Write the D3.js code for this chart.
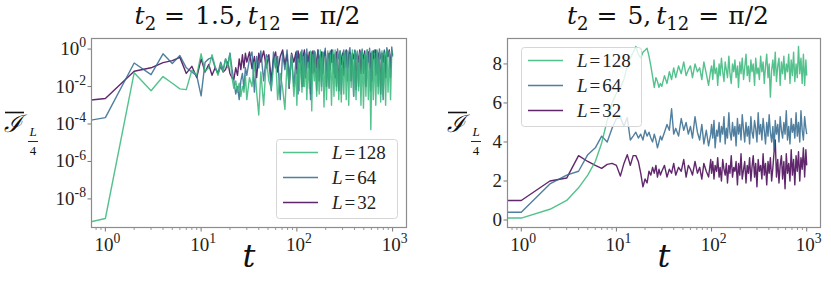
<!DOCTYPE html>
<html lang="en">
<head>
<meta charset="UTF-8">
<title>I_L/4 vs t</title>
<script src="https://d3js.org/d3.v7.min.js"></script>
<style>
  body { margin: 0; background: #fff; }
  svg { display: block; }
</style>
</head>
<body>
<script>
// time steps (t = 0 sits at the left edge of the log axis)
const tSteps = [0,1,2,3,4,5,6,7,8,9,10,11,12,13,14,15,16,17,18,19,20,21,22,23,24,25,26,27,28,29,30,
  32,34,36,38,40,42,45,48,51,54,57,60,63,67,71,75,79,83,88,93,98,
  100,103,106,109,113,116,120,123,127,131,135,139,143,147,152,156,161,166,171,176,
  181,187,192,198,204,210,217,223,230,237,244,251,259,266,274,283,291,300,309,318,
  328,338,348,358,369,380,392,403,415,428,441,454,467,481,496,511,526,542,558,575,
  592,610,628,647,667,687,707,728,750,773,796,820,845,870,896,923,951,980,1000];

const sizes = ["128", "64", "32"];
const colors = { "128": "#35b779", "64": "#31688e", "32": "#440154" };

// left panel: t2 = 1.5
const leftL32 = [1.9e-3,2.3e-3,6.5e-2,1e-1,1.9e-1,2.4e-1,3.6e-1,5e-2,1.2e-1,3e-2,3e-1,6e-2,1.5e-1,4e-2,1e-1,5e-2,1.2e-1,6e-2,8e-2,2e-1,5e-2,3e-2,2.5e-2,1e-1,4e-2,3e-1,8e-2,5e-1,1e-1,6e-1,2e-1,
  7e-1,9e-2,4e-1,3e-2,6e-1,2e-1,8e-1,1e-1,5e-1,2e-2,3e-1,7e-1,6e-2,4e-1,9e-1,1.5e-1,5e-1,8e-3,6e-1,2e-1,7e-1,
  5e-2,8e-1,2e-1,6e-1,1e-2,4e-1,9e-1,3e-2,5e-1,2e-1,
  7e-1,4e-3,3e-1,8e-1,6e-2,6e-1,1e-1,9e-1,2e-2,4e-1,
  7e-1,5e-2,5e-1,8e-1,1e-2,3e-1,6e-1,8e-2,9e-1,2e-1,
  5e-1,3e-2,7e-1,4e-1,6e-3,8e-1,1.5e-1,6e-1,4e-2,5e-1,
  9e-1,1e-1,4e-1,7e-1,2e-2,6e-1,3e-1,8e-1,7e-3,5e-1,
  2e-1,9e-1,5e-2,6e-1,3e-1,8e-1,1e-2,4e-1,7e-1,1e-1,
  6e-1,2e-2,8e-1,3e-1,9e-1,5e-2,5e-1,7e-1,4e-3,6e-1,
  2e-1,8e-1,3e-2,7e-1,4e-1,9e-1,1e-1,8e-1,5e-1];
const leftL64 = [1.6e-4,2.2e-4,1.8e-1,4.3e-2,5.6e-1,1.7e-1,4.5e-1,1e-1,6e-2,3.8e-2,3.2e-3,2e-1,3e-1,3.5e-1,1e-1,5e-2,2e-1,8e-2,3e-1,1.5e-1,6e-1,9e-2,2e-2,4e-3,1e-2,2e-3,2e-2,5e-2,8e-3,1e-1,4e-2,
  3e-1,7e-1,5e-3,4e-1,1e-1,8e-1,2e-2,5e-1,3e-1,6e-3,7e-1,1e-1,4e-1,2e-3,6e-1,8e-2,9e-1,3e-2,5e-1,1e-2,3e-1,
  8e-1,4e-3,5e-1,2e-1,9e-1,1e-2,6e-1,3e-2,1e0,1e-1,
  4e-1,2e-3,7e-1,5e-2,8e-1,3e-1,6e-3,9e-1,2e-1,5e-1,
  1e-2,7e-1,4e-1,1.1e0,3e-2,6e-1,8e-3,8e-1,2e-1,9e-1,
  5e-2,6e-1,1e-2,1e0,3e-1,7e-1,4e-3,5e-1,9e-1,1e-1,
  8e-1,2e-2,6e-1,1.2e0,7e-2,5e-1,3e-3,9e-1,3e-1,7e-1,
  1e-2,8e-1,4e-1,1e0,5e-2,6e-1,2e-2,9e-1,2e-1,1.1e0,
  6e-3,7e-1,5e-1,9e-1,4e-2,8e-1,1e-2,1e0,3e-1,6e-1,
  2e-3,9e-1,1e-1,1.2e0,5e-1,8e-1,3e-2,1.3e0,4e-1];
const leftL128 = [6e-10,9e-10,5.5e-2,6e-3,3.4e-2,1.5e-2,7.5e-3,6.8e-3,7.4e-2,4e-2,5.6e-1,6.5e-2,1e-1,5e-1,1.2e-1,4e-2,1.5e-1,6e-2,3e-1,1e-1,6e-1,3e-2,8e-3,2e-2,5e-3,1.5e-2,3e-3,1e-2,5e-3,4e-2,2e-3,
  3e-2,1e-2,2e-1,5e-3,3e-4,6e-2,1e-3,3e-1,2e-2,8e-3,1e-1,4e-1,2e-3,5e-2,8e-3,6e-4,2e-1,1e-2,5e-1,3e-3,8e-2,
  1e-3,3e-1,6e-3,7e-1,5e-3,4e-1,1e-2,6e-1,2e-3,2e-1,
  8e-3,8e-1,5e-4,5e-1,2e-2,7e-1,3e-3,3e-1,4e-3,9e-1,
  6e-3,6e-1,8e-4,4e-1,2e-3,8e-1,1e-2,5e-1,1e-3,7e-1,
  3e-3,9e-1,6e-3,6e-1,2e-3,8e-1,1.5e-3,4e-1,4e-3,7e-1,
  2e-3,8e-1,1e-3,5e-1,9e-3,9e-1,3e-3,7e-1,2e-3,8e-1,
  6e-3,6e-1,1e-3,8e-1,7e-4,5e-1,3e-3,9e-1,2e-3,7e-1,
  5e-5,8e-1,2e-3,6e-1,1e-3,9e-1,4e-3,7e-1,1.5e-3,8e-1,
  3e-3,6e-1,1e-3,9e-1,5e-3,7e-1,2e-3,8e-1,6e-1];

// right panel: t2 = 5
const rightL32 = [1.0,1.0,2.0,2.15,3.3,3.0,2.8,2.65,2.85,2.9,2.8,2.25,2.9,3.35,2.8,3.3,3.3,3.0,2.4,1.7,2.1,1.9,2.5,2.3,2.7,2.4,2.8,2.2,2.6,2.3,2.5,
  2.8,2.2,2.6,2.4,2.9,2.3,2.7,2.5,3.1,2.2,2.8,2.6,2.3,3.0,2.4,2.7,2.1,2.9,2.5,2.2,3.1,
  2.4,3.0,2.1,2.8,2.5,3.2,2.2,2.7,2.0,3.1,
  2.6,2.3,2.9,1.9,2.8,2.4,3.3,2.2,2.7,2.5,
  3.0,1.8,2.9,2.3,3.4,2.1,2.6,3.0,1.9,2.8,
  2.4,3.2,2.0,2.7,3.3,2.2,2.9,1.7,3.1,2.5,
  2.8,2.1,3.4,2.3,2.9,1.8,3.0,2.4,3.2,2.0,
  2.7,3.5,4.1,2.2,3.1,1.9,2.8,3.3,2.1,3.0,
  1.6,3.4,2.4,2.9,2.0,3.6,2.3,3.1,1.8,3.3,
  2.5,3.5,2.0,3.2,2.6,3.7,2.2,3.6,2.8];
const rightL64 = [0.4,0.4,1.85,2.3,2.5,3.35,3.7,4.3,4.0,4.7,5.2,5.25,4.8,5.25,4.1,4.3,4.5,4.2,4.4,4.1,4.6,4.3,4.5,4.2,4.0,4.4,4.1,3.7,4.0,4.3,4.1,
  4.5,4.9,4.6,5.7,4.4,4.7,4.3,5.2,4.6,5.0,4.4,4.8,4.2,5.3,4.5,4.1,4.9,3.9,4.6,3.8,4.4,
  4.9,4.2,5.1,3.7,4.6,4.3,5.0,4.0,4.8,4.4,
  5.3,3.9,4.7,4.2,5.5,4.5,4.1,5.0,4.3,4.8,
  3.8,5.2,4.4,4.9,4.1,5.4,4.6,4.0,5.0,4.3,
  4.8,3.9,5.3,4.5,4.2,5.1,4.7,4.0,5.5,4.4,
  4.9,4.1,5.2,4.6,3.9,5.0,4.3,5.4,4.5,4.0,
  4.8,3.6,5.1,4.4,4.9,4.0,5.3,4.6,4.2,5.0,
  4.4,5.6,4.1,4.8,3.9,5.2,4.5,4.9,4.2,5.5,
  4.3,5.0,4.0,5.6,4.6,4.1,5.3,4.7,4.4];
const rightL128 = [0.1,0.1,0.55,1.0,1.65,2.3,3.0,3.95,5.1,6.0,6.5,6.8,7.2,7.9,8.3,8.6,8.9,8.5,8.3,8.6,8.7,8.8,8.4,7.9,7.35,6.8,7.3,7.1,6.8,7.0,6.85,
  7.4,7.0,7.6,7.2,7.8,7.3,7.9,7.5,8.1,7.4,7.7,7.9,7.3,8.0,7.6,7.8,7.2,8.1,7.5,6.9,7.7,
  7.9,7.2,8.2,7.5,7.8,6.9,8.0,7.4,8.3,7.6,
  7.1,8.1,7.7,7.3,8.4,7.5,7.0,8.0,7.6,8.2,
  7.3,7.9,6.8,8.1,7.5,8.3,7.2,7.8,8.5,7.4,
  7.9,7.1,8.2,7.6,8.0,6.9,8.3,7.5,7.8,7.2,
  8.4,7.6,8.1,7.0,7.9,8.5,7.3,8.0,6.3,7.7,
  8.2,7.4,8.6,7.1,7.9,8.3,6.9,8.1,7.5,8.4,
  7.2,8.0,7.6,8.5,7.0,8.2,7.4,8.6,7.1,8.0,
  7.3,8.9,7.5,8.3,7.0,8.5,6.9,8.2,7.4];

const xTicks = [1, 10, 100, 1000];
const leftYTicks = [1e0, 1e-2, 1e-4, 1e-6, 1e-8];
const rightYTicks = [0, 2, 4, 6, 8];

const width = 831, height = 287;
const serif = "'Liberation Serif', 'Times New Roman', Tinos, 'DejaVu Serif', serif";
const mathSerif = "'DejaVu Serif', 'Liberation Serif', serif";
const svg = d3.select("body").append("svg")
  .attr("width", width).attr("height", height)
  .attr("font-family", serif)
  .style("background", "#fff");

// rich text: parts with italic / sub / sup / extra gap
function rich(text, parts, size) {
  let shift = 0;
  parts.forEach(p => {
    const target = p.sub ? size * 0.22 : p.sup ? -size * 0.4 : 0;
    const ts = text.append("tspan")
      .attr("dy", target - shift)
      .attr("font-size", (p.sub || p.sup) ? size * 0.72 : size)
      .attr("font-style", p.it ? "italic" : "normal")
      .text(p.t);
    if (p.dx) ts.attr("dx", p.dx);
    shift = target;
  });
}

const panels = [
  { left: 91, right: 407, log: true, yDomain: [2.8e-10, 3.9], yTicks: leftYTicks, labelX: 4,
    series: { "128": leftL128, "64": leftL64, "32": leftL32 },
    titleX: 247.5,
    title: [{t: "t", it: true}, {t: "2", sub: true}, {t: "=", dx: 8}, {t: "1.5,", dx: 10}, {t: "t", it: true, dx: 5}, {t: "12", sub: true}, {t: "=", dx: 9}, {t: "π/2", dx: 9}],
    legend: { x: 276, y: 139, w: 121, h: 79 } },
  { left: 507, right: 821, log: false, yDomain: [-0.41, 9.33], yTicks: rightYTicks, labelX: 447,
    series: { "128": rightL128, "64": rightL64, "32": rightL32 },
    titleX: 668,
    title: [{t: "t", it: true}, {t: "2", sub: true}, {t: "=", dx: 8}, {t: "5,", dx: 10}, {t: "t", it: true, dx: 5}, {t: "12", sub: true}, {t: "=", dx: 9}, {t: "π/2", dx: 9}],
    legend: { x: 521, y: 47, w: 120, h: 79 } }
];
const plotTop = 38, plotBottom = 228;

panels.forEach((p, i) => {
  const x = d3.scaleLog().domain([0.708, 1413]).range([p.left, p.right]);
  const y = (p.log ? d3.scaleLog() : d3.scaleLinear()).domain(p.yDomain).range([plotBottom, plotTop]);
  const g = svg.append("g");

  const clipId = "clip" + i;
  svg.append("clipPath").attr("id", clipId).append("rect")
    .attr("x", p.left).attr("y", plotTop).attr("width", p.right - p.left).attr("height", plotBottom - plotTop);

  const line = d3.line()
    .x((d, k) => x(Math.max(tSteps[k], x.domain()[0])))
    .y(d => y(d));

  // draw L=32 first, L=128 on top
  ["32", "64", "128"].forEach(L => {
    g.append("path")
      .datum(p.series[L])
      .attr("clip-path", `url(#${clipId})`)
      .attr("fill", "none")
      .attr("stroke", colors[L])
      .attr("stroke-opacity", 0.85)
      .attr("stroke-width", 1.4)
      .attr("stroke-linejoin", "round")
      .attr("d", line);
  });

  // frame
  g.append("rect")
    .attr("x", p.left + 0.5).attr("y", plotTop + 0.5)
    .attr("width", p.right - p.left - 1).attr("height", plotBottom - plotTop - 1)
    .attr("fill", "none").attr("stroke", "#8c8c8c").attr("stroke-width", 1.2);

  // x ticks
  const minor = [];
  [0.1, 1, 10, 100, 1000].forEach(dec => {
    for (let m = 2; m <= 9; m++) {
      const v = dec * m;
      if (v > x.domain()[0] && v < x.domain()[1]) minor.push(v);
    }
  });
  g.selectAll(null).data(minor).join("line")
    .attr("x1", d => x(d)).attr("x2", d => x(d))
    .attr("y1", plotBottom).attr("y2", plotBottom + 2)
    .attr("stroke", "#555").attr("stroke-width", 0.6);
  g.selectAll(null).data(xTicks).join("line")
    .attr("x1", d => x(d)).attr("x2", d => x(d))
    .attr("y1", plotBottom).attr("y2", plotBottom + 3.5)
    .attr("stroke", "#555").attr("stroke-width", 0.8);
  xTicks.forEach(v => {
    const tx = g.append("text")
      .attr("x", x(v) + 2).attr("y", 251)
      .attr("fill", "#222")
      .attr("text-anchor", "middle");
    rich(tx, [{t: "10"}, {t: String(Math.round(Math.log10(v))), sup: true}], 19);
  });

  // y ticks
  p.yTicks.forEach(v => {
    g.append("line")
      .attr("x1", p.left - 3.5).attr("x2", p.left)
      .attr("y1", y(v)).attr("y2", y(v))
      .attr("stroke", "#555").attr("stroke-width", 0.8);
    const ty = g.append("text")
      .attr("x", p.left - 5).attr("y", y(v) + 6)
      .attr("fill", "#222")
      .attr("text-anchor", "end");
    if (p.log) rich(ty, [{t: "10"}, {t: String(Math.round(Math.log10(v))), sup: true}], 19);
    else ty.attr("font-size", 19).text(v);
  });

  // title
  const tt = g.append("text").attr("x", p.titleX).attr("y", 24).attr("text-anchor", "middle")
    .attr("fill", "#111").attr("font-family", mathSerif);
  rich(tt, p.title, 25);

  // x label
  g.append("text").attr("x", (p.left + p.right) / 2).attr("y", 267).attr("text-anchor", "middle")
    .attr("fill", "#111").attr("font-family", mathSerif)
    .attr("font-size", 32).attr("font-style", "italic").text("t");

  // y label: overbar script I with L/4 subscript
  const lx = p.labelX;
  g.append("text").attr("x", lx).attr("y", 132)
    .attr("fill", "#111").attr("font-family", mathSerif)
    .attr("font-size", 24).attr("font-style", "italic").text("ℐ");
  g.append("line").attr("x1", lx + 1).attr("x2", lx + 20).attr("y1", 112.5).attr("y2", 112.5)
    .attr("stroke", "#111").attr("stroke-width", 1.6);
  g.append("text").attr("x", lx + 29).attr("y", 136).attr("text-anchor", "middle")
    .attr("fill", "#111").attr("font-size", 13).attr("font-style", "italic").text("L");
  g.append("line").attr("x1", lx + 24).attr("x2", lx + 34).attr("y1", 141.5).attr("y2", 141.5)
    .attr("stroke", "#111").attr("stroke-width", 0.9);
  g.append("text").attr("x", lx + 29).attr("y", 155).attr("text-anchor", "middle")
    .attr("fill", "#111").attr("font-size", 13).text("4");

  // legend
  const lg = p.legend;
  g.append("rect").attr("x", lg.x + 0.5).attr("y", lg.y + 0.5).attr("width", lg.w).attr("height", lg.h)
    .attr("rx", 3).attr("fill", "#fff").attr("fill-opacity", 0.8)
    .attr("stroke", "#d6d6d6").attr("stroke-width", 1);
  sizes.forEach((L, k) => {
    const ly = lg.y + 13.5 + k * 25;
    g.append("line").attr("x1", lg.x + 7).attr("x2", lg.x + 42).attr("y1", ly).attr("y2", ly)
      .attr("stroke", colors[L]).attr("stroke-opacity", 0.85).attr("stroke-width", 1.5);
    const t = g.append("text").attr("x", lg.x + 56).attr("y", ly + 6.5).attr("fill", "#222");
    rich(t, [{t: "L", it: true}, {t: "=", dx: 2}, {t: L, dx: 2}], 19);
  });
});
</script>
</body>
</html>
